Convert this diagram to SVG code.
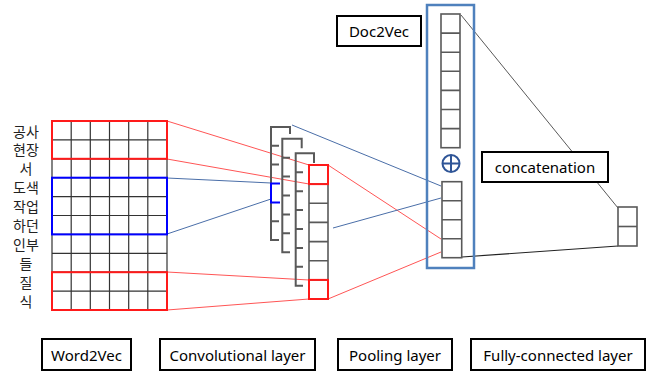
<svg xmlns="http://www.w3.org/2000/svg" width="648" height="374" viewBox="0 0 648 374">
<style>
.lbl{font-family:"Noto Sans","Noto Sans CJK KR",sans-serif;font-size:15px;fill:#000;text-anchor:middle;dominant-baseline:central}
.kr{font-family:"Noto Sans CJK KR",sans-serif;font-size:14px;fill:#222;text-anchor:middle;dominant-baseline:central}
.box{fill:#fff;stroke:#000;stroke-width:2}
.grid{fill:none;stroke:#333;stroke-width:1.2}
.cell{fill:#fff;stroke:#595959;stroke-width:1.6}
.brk{fill:none;stroke:#595959;stroke-width:2}
.red{fill:none;stroke:#ff1a1a;stroke-width:2}
.blu{fill:none;stroke:#0000ff;stroke-width:2}
.rl{stroke:#ff5555;stroke-width:1;fill:none}
.bl{stroke:#4a6ea8;stroke-width:1;fill:none}
</style>
<rect width="648" height="374" fill="#fff"/>
<g id="connectors">
<line class="rl" x1="167" y1="121" x2="309" y2="165"/>
<line class="rl" x1="167" y1="159" x2="309" y2="184"/>
<line class="rl" x1="167" y1="272" x2="309" y2="280"/>
<line class="rl" x1="167" y1="310" x2="309" y2="299"/>
<line class="rl" x1="328" y1="165" x2="441" y2="239"/>
<line class="rl" x1="328" y1="299" x2="441" y2="252"/>
<line class="bl" x1="167" y1="178" x2="271" y2="183"/>
<line class="bl" x1="167" y1="234" x2="271" y2="199"/>
<line class="bl" x1="292" y1="125" x2="441" y2="186"/>
<line class="bl" x1="333" y1="228" x2="441" y2="198"/>
<line x1="461" y1="15" x2="618" y2="208" stroke="#595959" stroke-width="1"/>
<line x1="462" y1="257" x2="618" y2="246" stroke="#222" stroke-width="1.2"/>
</g>
<g id="word2vec-matrix">
<rect class="grid" x="52" y="121" width="115" height="189"/>
<path class="grid" d="M71.2,121V310M90.3,121V310M109.5,121V310M128.7,121V310M147.8,121V310M52,139.9H167M52,158.8H167M52,177.7H167M52,196.6H167M52,215.5H167M52,234.4H167M52,253.3H167M52,272.2H167M52,291.1H167"/>
<rect class="red" x="52" y="121" width="115" height="37.8"/>
<rect class="blu" x="52" y="177.7" width="115" height="56.7"/>
<rect class="red" x="52" y="272.2" width="115" height="37.8"/>
</g>
<g id="words">
<text class="kr" x="26" y="130.5">공사</text>
<text class="kr" x="26" y="149.4">현장</text>
<text class="kr" x="26" y="168.3">서</text>
<text class="kr" x="26" y="187.2">도색</text>
<text class="kr" x="26" y="206.1">작업</text>
<text class="kr" x="26" y="225">하던</text>
<text class="kr" x="26" y="243.9">인부</text>
<text class="kr" x="26" y="262.8">들</text>
<text class="kr" x="26" y="281.7">질</text>
<text class="kr" x="26" y="300.6">식</text>
</g>
<g id="conv-layer">
<path class="brk" d="M290,134V127H271V240H279M271,145.7H279M271,164.6H279M271,221.3H279"/>
<path class="blu" d="M280,183.5H271V202.4H280"/>
<path class="brk" d="M301.7,148.3V138.7H282.3V252.2H290M282.3,157.7H290M282.3,176.6H290M282.3,195.5H290M282.3,214.4H290M282.3,233.3H290"/>
<path class="brk" d="M314,163V153.3H295.7V285.7H303M295.7,172.3H303M295.7,191.2H303M295.7,210.1H303M295.7,229H303M295.7,247.9H303M295.7,266.8H303"/>
<rect class="cell" x="309" y="165" width="19" height="134"/>
<path class="cell" d="M309,184.1H328M309,203.3H328M309,222.4H328M309,241.6H328M309,260.7H328M309,279.9H328"/>
<rect class="red" x="309" y="165" width="19" height="19.1"/>
<rect class="red" x="309" y="279.9" width="19" height="19.1"/>
</g>
<g id="pooling-block">
<rect x="427" y="5" width="47" height="263" fill="none" stroke="#4f81bd" stroke-width="2.5"/>
<rect class="cell" x="441" y="14" width="19" height="133.7"/>
<path class="cell" d="M441,33.1H460M441,52.2H460M441,71.3H460M441,90.4H460M441,109.5H460M441,128.6H460"/>
<circle cx="451" cy="163.5" r="8.5" fill="none" stroke="#2f5597" stroke-width="2"/>
<path d="M442.5,163.5H459.5M451,155V172" stroke="#2f5597" stroke-width="2"/>
<rect class="cell" x="442" y="181.7" width="19.7" height="76"/>
<path class="cell" d="M442,200.7H461.7M442,219.7H461.7M442,238.7H461.7"/>
</g>
<g id="doc2vec-label">
<rect class="box" x="337" y="16" width="84" height="30"/>
<text class="lbl" x="379" y="31">Doc2Vec</text>
</g>
<g id="concatenation-label">
<rect class="box" x="482" y="152" width="126" height="30"/>
<text class="lbl" x="545" y="167">concatenation</text>
</g>
<g id="fully-connected">
<rect class="cell" x="618" y="207" width="19" height="39"/>
<path class="cell" d="M618,226.5H637"/>
</g>
<g id="label-word2vec">
<rect class="box" x="42" y="339" width="89" height="31"/>
<text class="lbl" x="86.5" y="354.5">Word2Vec</text>
</g>
<g id="label-conv">
<rect class="box" x="160" y="339" width="155" height="31"/>
<text class="lbl" x="237.5" y="354.5">Convolutional layer</text>
</g>
<g id="label-pooling">
<rect class="box" x="338" y="339" width="114" height="31"/>
<text class="lbl" x="395" y="354.5">Pooling layer</text>
</g>
<g id="label-fc">
<rect class="box" x="471" y="339" width="174" height="31"/>
<text class="lbl" x="558" y="354.5">Fully-connected layer</text>
</g>
</svg>
